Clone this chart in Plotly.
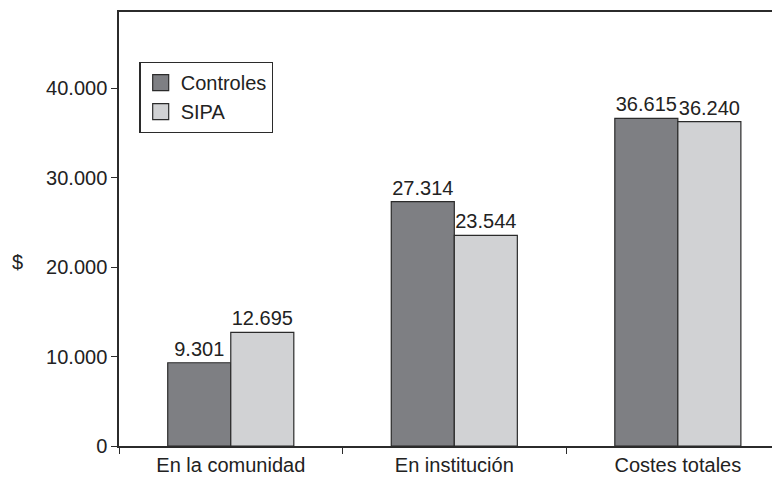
import plotly.graph_objects as go

categories = ["En la comunidad", "En institución", "Costes totales"]
controles = [9301, 27314, 36615]
sipa = [12695, 23544, 36240]
series_names = ["Controles", "SIPA"]
y_ticks = [0, 10000, 20000, 30000, 40000]

dark = "#7e7f83"
light = "#d1d2d4"
edge = "#2b2b2b"
font_family = "Liberation Sans, Arial, sans-serif"

fig = go.Figure()
for name, vals, col in [(series_names[0], controles, dark), (series_names[1], sipa, light)]:
    fig.add_trace(go.Bar(
        x=categories, y=vals, name=name, showlegend=False,
        marker=dict(color=col, line=dict(color=edge, width=1.2)),
        texttemplate="%{y:,d}", textposition="outside",
        textfont=dict(size=20, color="#222"), constraintext="none",
        cliponaxis=False,
    ))
    # legend proxies with larger swatches
    fig.add_trace(go.Scatter(
        x=[None], y=[None], mode="markers", name=name,
        marker=dict(symbol="square", size=18, color=col, line=dict(color=edge, width=1.2)),
    ))

# page body has an 8px default margin, so the figure is sized/offset to compensate
fig.update_layout(
    width=772, height=469,
    margin=dict(l=111, r=0, t=4, b=31, autoexpand=False),
    paper_bgcolor="white", plot_bgcolor="white",
    font=dict(family=font_family, size=20, color="#222"),
    separators=",.",
    barmode="group", bargap=0.436, bargroupgap=0,
    showlegend=True,
    legend=dict(x=0.031, y=0.885, xanchor="left", yanchor="top",
                bordercolor=edge, borderwidth=1.2, bgcolor="white",
                font=dict(size=20), tracegroupgap=0, itemwidth=30),
    xaxis=dict(type="category", range=[-0.5, 2.457], showline=True, linecolor=edge,
               linewidth=1.5, mirror=True, ticks="outside", tickson="boundaries",
               ticklen=6, tickcolor=edge, showgrid=False, zeroline=False),
    yaxis=dict(range=[0, 48500], tickvals=y_ticks, tickformat=",d", showline=True,
               linecolor=edge, linewidth=1.5, ticks="outside", ticklen=6, tickcolor=edge,
               showgrid=False, zeroline=False),
    annotations=[dict(text="$", xref="paper", yref="paper", x=-0.154, y=0.424,
                      xanchor="center", yanchor="middle", showarrow=False,
                      font=dict(size=20, color="#222"))],
)

fig.write_html("out.html")
